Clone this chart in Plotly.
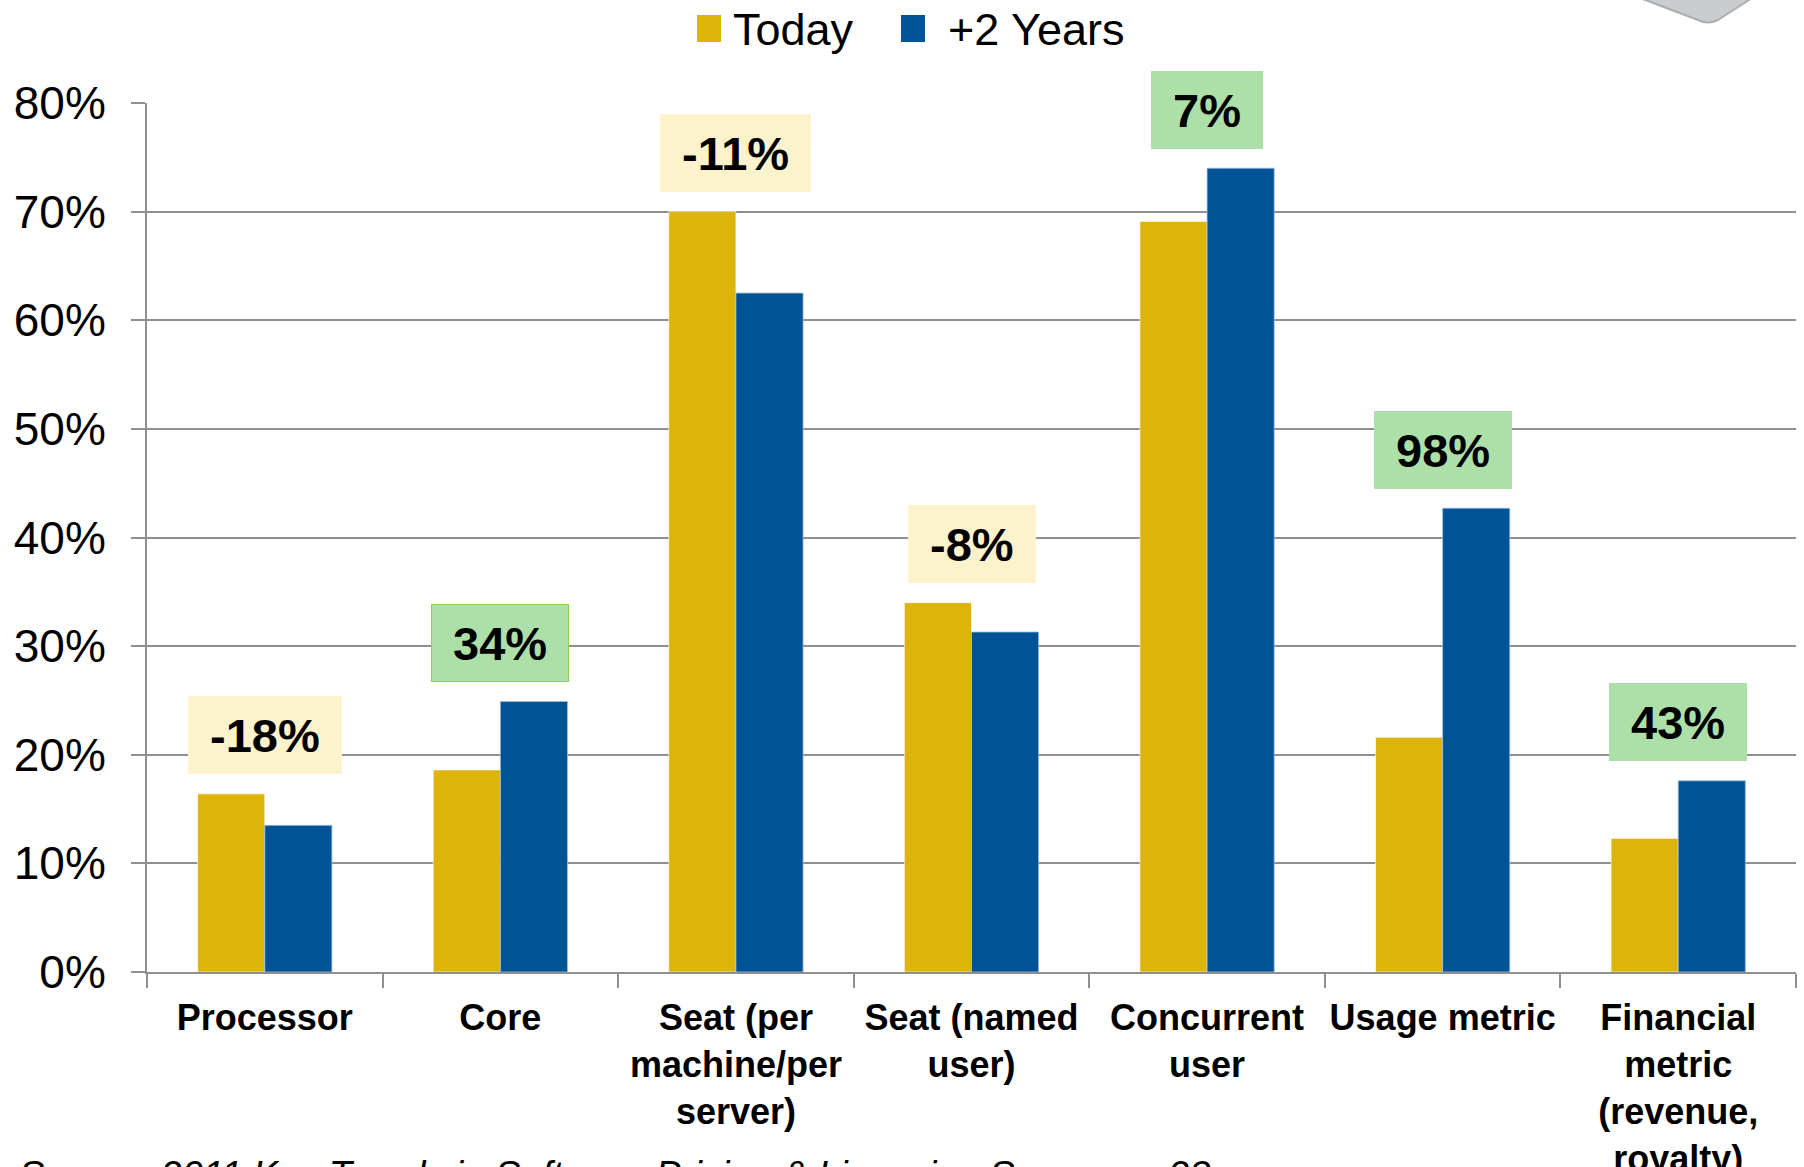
import plotly.graph_objects as go

# data (percent of respondents)
categories = [
    "Processor",
    "Core",
    "Seat (per<br>machine/per<br>server)",
    "Seat (named<br>user)",
    "Concurrent<br>user",
    "Usage metric",
    "Financial<br>metric<br>(revenue,<br>royalty)",
]
today = [16.4, 18.6, 70.0, 34.0, 69.1, 21.6, 12.3]
plus_two = [13.5, 24.9, 62.5, 31.3, 74.0, 42.7, 17.6]
change_labels = ["-18%", "34%", "-11%", "-8%", "7%", "98%", "43%"]
y_ticks = [0, 10, 20, 30, 40, 50, 60, 70, 80]
y_tick_text = [f"{v}%" for v in y_ticks]

GOLD = "#DDB40A"
BLUE = "#025396"
GRID = "#8F8F8F"
FONT = "Liberation Sans, Arial, sans-serif"

W, H = 1804, 1167
L, R, T, B = 147, 8, 103, 195


def px_x(p):
    return (p - L) / (W - L - R)


def px_y(p):
    return (H - B - p) / (H - B - T)


fig = go.Figure()
fig.add_trace(go.Bar(x=categories, y=today, name="Today", marker_color=GOLD,
                     marker_line=dict(color="rgba(255,255,255,0.6)", width=1)))
fig.add_trace(go.Bar(x=categories, y=plus_two, name="+2 Years", marker_color=BLUE,
                     marker_line=dict(color="rgba(160,190,220,0.8)", width=1)))

# change boxes above each pair of bars
for cat, a, b, lab in zip(categories, today, plus_two, change_labels):
    neg = lab.startswith("-")
    fig.add_annotation(
        x=cat, y=max(a, b) + 1.8, yanchor="bottom", xanchor="center",
        text=f"<b>{lab}</b>", showarrow=False,
        font=dict(family=FONT, size=47, color="black"),
        bgcolor="#FCF2CC" if neg else "#ADDFA8",
        bordercolor="#92D050" if lab == "34%" else ("#FCF2CC" if neg else "#ADDFA8"),
        borderwidth=1, borderpad=21, height=34,
    )

# manual legend (bigger swatches than plotly's own)
for x0, col in [(697, GOLD), (901, BLUE)]:
    fig.add_shape(type="rect", xref="paper", yref="paper",
                  x0=px_x(x0), x1=px_x(x0 + 24), y0=px_y(42), y1=px_y(15),
                  fillcolor=col, line_width=0)
for x0, txt in [(731, "Today"), (946, "+2 Years")]:
    fig.add_annotation(xref="paper", yref="paper", x=px_x(x0), y=px_y(30),
                       xanchor="left", yanchor="middle", text=txt, showarrow=False,
                       font=dict(family=FONT, size=45, color="black"))

# decorative tile peeking in at top right
path = "M {} {} L {} {} Q {} {} {} {} L {} {} Z".format(
    px_x(1640), px_y(-2), px_x(1698), px_y(20), px_x(1708), px_y(25),
    px_x(1718), px_y(20), px_x(1752), px_y(-2))
fig.add_shape(type="path", xref="paper", yref="paper", path=path,
              fillcolor="#C9CDD0", line=dict(color="#A9AEB2", width=2))

# source line, cut off by the bottom edge like in the slide
fig.add_annotation(xref="paper", yref="paper", x=px_x(17), y=px_y(1152),
                   xanchor="left", yanchor="top", showarrow=False,
                   text="<i>Source: 2011 Key Trends in Software Pricing & Licensing Survey, p. 23</i>",
                   font=dict(family=FONT, size=38, color="black"))

fig.update_layout(
    width=W, height=H,
    margin=dict(l=L, r=R, t=T, b=B, autoexpand=False),
    paper_bgcolor="white", plot_bgcolor="white",
    barmode="group", bargap=0.43, bargroupgap=0,
    showlegend=False,
    font=dict(family=FONT, color="black"),
)
fig.update_yaxes(
    range=[0, 80], tickmode="array", tickvals=y_ticks, ticktext=y_tick_text,
    showgrid=True, gridcolor=GRID, gridwidth=2,
    showline=True, linecolor=GRID, linewidth=2,
    ticks="outside", ticklen=14, tickcolor=GRID, tickwidth=2,
    ticklabelstandoff=16, zeroline=False, automargin=False,
    tickfont=dict(family=FONT, size=46, color="black"),
)
fig.update_xaxes(
    showline=True, linecolor=GRID, linewidth=2,
    ticks="outside", tickson="boundaries", ticklen=14, tickcolor=GRID, tickwidth=2,
    ticklabelstandoff=13, tickangle=0, automargin=False,
    tickfont=dict(family=FONT, size=36, color="black", weight="bold"),
)

# drop the page's default body margin so the figure fills the window exactly
fig.write_html("out.html", config={"displayModeBar": False},
               post_script="document.body.style.margin = '0';")
